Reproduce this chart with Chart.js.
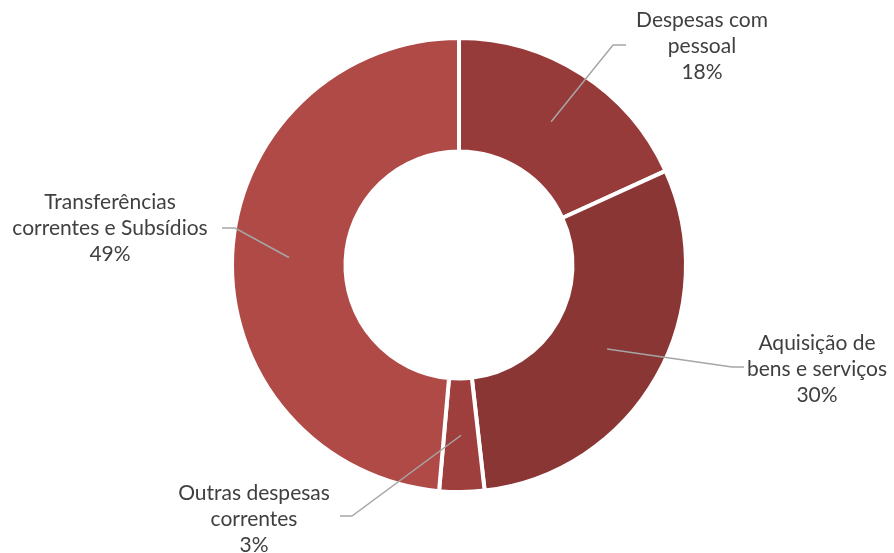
<!DOCTYPE html>
<html>
<head>
<meta charset="utf-8">
<script src="https://cdn.jsdelivr.net/npm/chart.js@4.4.0/dist/chart.umd.min.js"></script>
<style>
html,body{margin:0;padding:0;background:#fff;}
#wrap{width:894px;height:553px;position:relative;}
</style>
</head>
<body>
<div id="wrap"><canvas id="c" width="894" height="553"></canvas></div>
<script>
const categories = ["Despesas com pessoal", "Aquisição de bens e serviços", "Outras despesas correntes", "Transferências correntes e Subsídios"];
const labelLines = [["Despesas com", "pessoal"], ["Aquisição de", "bens e serviços"], ["Outras despesas", "correntes"], ["Transferências", "correntes e Subsídios"]];
const values = [18.2, 30.0, 3.2, 48.6];
const percentLabels = ["18%", "30%", "3%", "49%"];
const colors = ["#973b3a", "#893634", "#9e3f3d", "#af4a47"];

// label text layout (centre x, first line y) and leader elbow/end points
const labelLayout = [
  {x: 702, y: 20, elbow: [613, 45], end: [626, 45]},
  {x: 817, y: 343, elbow: [732, 367], end: [744, 367]},
  {x: 254, y: 493, elbow: [352, 516], end: [340, 516]},
  {x: 110, y: 202, elbow: [235, 228], end: [222, 228]}
];

const leaderPlugin = {
  id: 'leaders',
  afterDatasetsDraw(chart) {
    const ctx = chart.ctx;
    const meta = chart.getDatasetMeta(0);
    ctx.save();
    meta.data.forEach((arc, i) => {
      const p = arc.getCenterPoint();
      const L = labelLayout[i];
      ctx.strokeStyle = '#a6a6a6';
      ctx.lineWidth = 1.5;
      ctx.beginPath();
      ctx.moveTo(p.x, p.y);
      ctx.lineTo(L.elbow[0], L.elbow[1]);
      ctx.lineTo(L.end[0], L.end[1]);
      ctx.stroke();
      ctx.fillStyle = '#404040';
      ctx.font = '21px Lato';
      ctx.textAlign = 'center';
      ctx.textBaseline = 'middle';
      const lines = labelLines[i].concat([percentLabels[i]]);
      lines.forEach((t, k) => ctx.fillText(t, L.x, L.y + k * 26));
    });
    ctx.restore();
  }
};

new Chart(document.getElementById('c'), {
  type: 'doughnut',
  data: {
    labels: categories,
    datasets: [{
      data: values,
      backgroundColor: colors,
      borderColor: '#ffffff',
      borderWidth: 4,
      hoverOffset: 0
    }]
  },
  options: {
    responsive: false,
    animation: false,
    cutout: '50%',
    layout: {padding: {left: 24, right: 0, top: 36, bottom: 59}},
    plugins: {legend: {display: false}, tooltip: {enabled: false}},
    events: []
  },
  plugins: [leaderPlugin]
});
</script>
</body>
</html>
